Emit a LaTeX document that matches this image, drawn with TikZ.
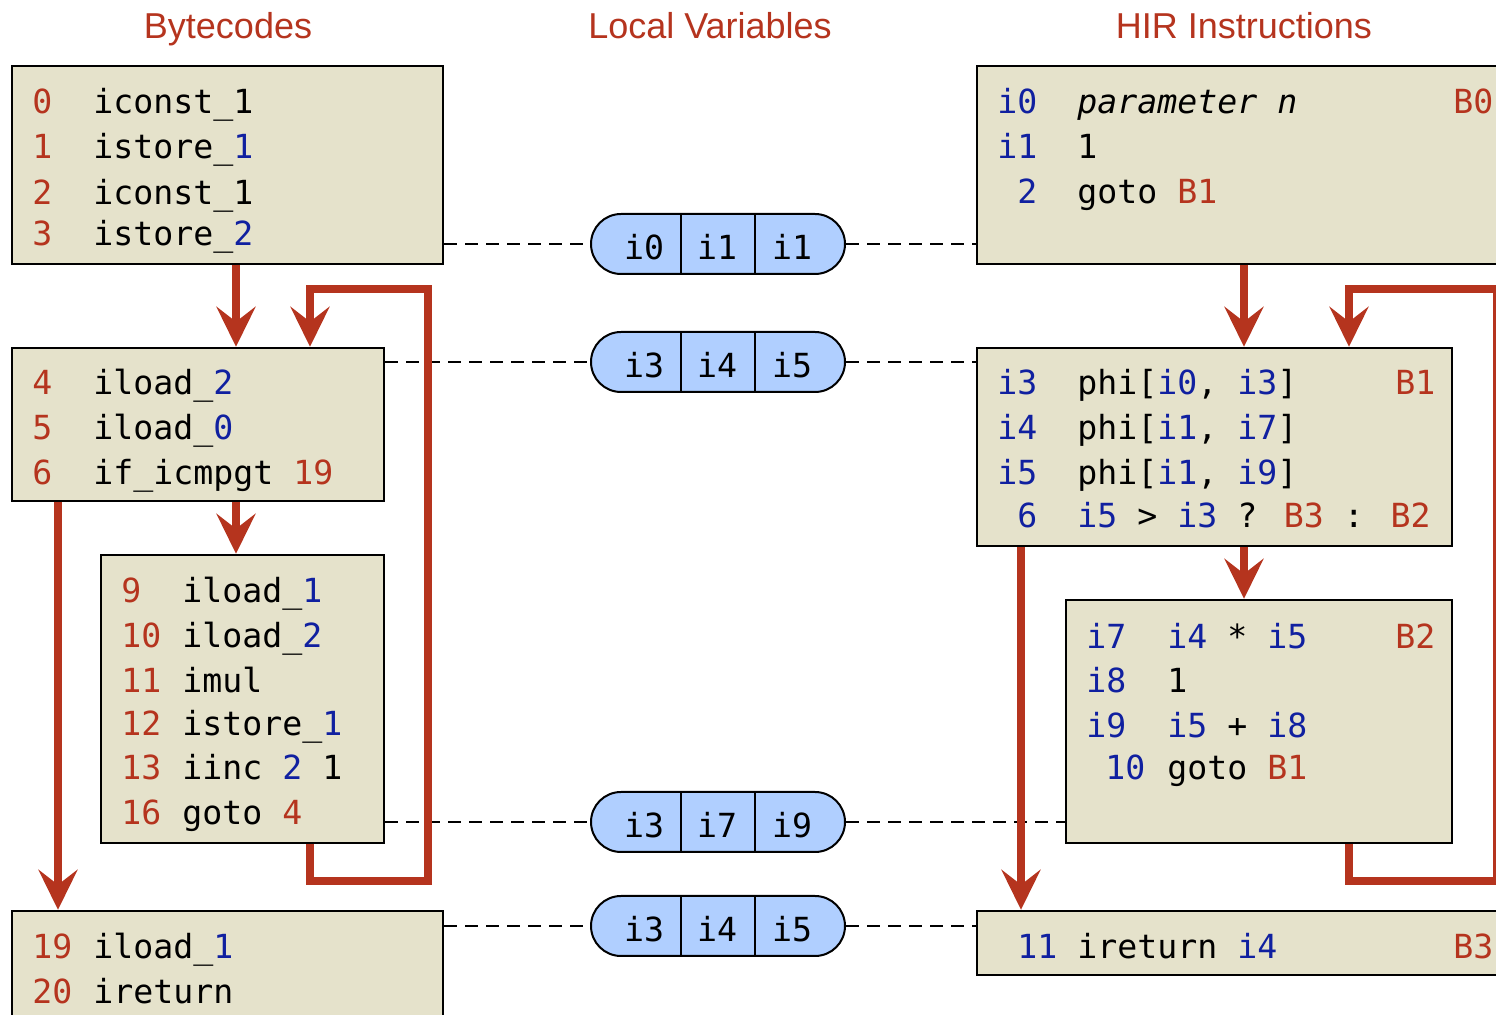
\documentclass[tikz,border=0pt]{standalone}
\usepackage{fontspec}
\usetikzlibrary{arrows.meta,fit}
\newfontfamily\headfont{Liberation Sans}
\newfontfamily\codefont{DejaVu Sans Mono}
\definecolor{flowred}{RGB}{181,52,30}
\definecolor{valblue}{RGB}{16,32,160}
\definecolor{blockfill}{RGB}{229,226,203}
\definecolor{pillfill}{RGB}{176,207,255}
\newcommand{\Rd}[1]{\textcolor{flowred}{#1}}
\newcommand{\Bl}[1]{\textcolor{valblue}{#1}}
\newcommand{\us}{\textunderscore}
\tikzset{
  blockbox/.style={draw=black, line width=1.2pt, fill=blockfill, inner sep=0pt, rectangle},
  code/.style={font=\codefont\fontsize{16.6pt}{20pt}\selectfont, inner sep=0pt, anchor=base west, yshift=-1pt},
  codec/.style={code, anchor=base},
  title/.style={font=\headfont\fontsize{18pt}{22pt}\selectfont, text=flowred, inner sep=0pt, anchor=base},
  pill/.style={draw=black, line width=1pt, fill=pillfill, rectangle, rounded corners=15pt,
    minimum width=127pt, minimum height=30pt, inner sep=0pt},
  link/.style={draw=black, line width=0.8pt, dash pattern=on 6.5pt off 4pt},
  flow/.style={draw=flowred, line width=3.6pt, line join=round,
    -{Stealth[length=20pt, width=19.5pt, inset=7.5pt, flowred]}},
  loopflow/.style={flow, line join=miter},
}
\begin{document}
\begin{tikzpicture}[x=0.5pt, y=-0.5pt]
\useasboundingbox (0,0) rectangle (1496,1015);
\clip (0,0) rectangle (1496,1015);

% column headings
\node[title] (hBC) at (228,39) {Bytecodes};
\node[title] (hLV) at (710,39) {Local Variables};
\node[title] (hHIR) at (1244,39) {HIR Instructions};

% ---------------- bytecode blocks ----------------
\coordinate (a1) at (12,66);   \coordinate (a2) at (443,264);
\coordinate (b1) at (12,348);  \coordinate (b2) at (384,501);
\coordinate (c1) at (101,555); \coordinate (c2) at (384,843);
\coordinate (d1) at (12,911);  \coordinate (d2) at (443,1045);
\node[blockbox, fit=(a1)(a2)] (bA) {};
\node[blockbox, fit=(b1)(b2)] (bB) {};
\node[blockbox, fit=(c1)(c2)] (bC) {};
\node[blockbox, fit=(d1)(d2)] (bD) {};

\node[code] (a0n) at (32,112) {\Rd{0}};  \node[code] (a0t) at (93,112) {iconst\us1};
\node[code] (a1n) at (32,157) {\Rd{1}};  \node[code] (a1t) at (93,157) {istore\us\Bl{1}};
\node[code] (a2n) at (32,203) {\Rd{2}};  \node[code] (a2t) at (93,203) {iconst\us1};
\node[code] (a3n) at (32,244) {\Rd{3}};  \node[code] (a3t) at (93,244) {istore\us\Bl{2}};

\node[code] (b4n) at (32,393) {\Rd{4}};  \node[code] (b4t) at (93,393) {iload\us\Bl{2}};
\node[code] (b5n) at (32,438) {\Rd{5}};  \node[code] (b5t) at (93,438) {iload\us\Bl{0}};
\node[code] (b6n) at (32,483) {\Rd{6}};  \node[code] (b6t) at (93,483) {if\us icmpgt \Rd{19}};

\node[code] (c9n)  at (121,601) {\Rd{9}};  \node[code] (c9t)  at (182,601) {iload\us\Bl{1}};
\node[code] (c10n) at (121,646) {\Rd{10}}; \node[code] (c10t) at (182,646) {iload\us\Bl{2}};
\node[code] (c11n) at (121,691) {\Rd{11}}; \node[code] (c11t) at (182,691) {imul};
\node[code] (c12n) at (121,734) {\Rd{12}}; \node[code] (c12t) at (182,734) {istore\us\Bl{1}};
\node[code] (c13n) at (121,778) {\Rd{13}}; \node[code] (c13t) at (182,778) {iinc \Bl{2} 1};
\node[code] (c16n) at (121,823) {\Rd{16}}; \node[code] (c16t) at (182,823) {goto \Rd{4}};

\node[code] (d19n) at (32,957)  {\Rd{19}}; \node[code] (d19t) at (93,957)  {iload\us\Bl{1}};
\node[code] (d20n) at (32,1002) {\Rd{20}}; \node[code] (d20t) at (93,1002) {ireturn};

% ---------------- HIR blocks ----------------
\coordinate (e1) at (977,66);   \coordinate (e2) at (1530,264);
\coordinate (f1) at (977,348);  \coordinate (f2) at (1452,546);
\coordinate (g1) at (1066,600); \coordinate (g2) at (1452,843);
\coordinate (h1) at (977,911);  \coordinate (h2) at (1530,975);
\node[blockbox, fit=(e1)(e2)] (bE) {};
\node[blockbox, fit=(f1)(f2)] (bF) {};
\node[blockbox, fit=(g1)(g2)] (bG) {};
\node[blockbox, fit=(h1)(h2)] (bH) {};

\node[code] (e0n) at (997,112)  {\Bl{i0}}; \node[code] (e0t) at (1077,112) {\itshape parameter n};
\node[code] (e0b) at (1453,112) {\Rd{B0}};
\node[code] (e1n) at (997,157)  {\Bl{i1}}; \node[code] (e1t) at (1077,157) {1};
\node[code] (e2n) at (1017,202) {\Bl{2}};  \node[code] (e2t) at (1077,202) {goto \Rd{B1}};

\node[code] (f3n) at (997,393)  {\Bl{i3}}; \node[code] (f3t) at (1077,393) {phi[\Bl{i0}, \Bl{i3}]};
\node[code] (f3b) at (1395,393) {\Rd{B1}};
\node[code] (f4n) at (997,438)  {\Bl{i4}}; \node[code] (f4t) at (1077,438) {phi[\Bl{i1}, \Bl{i7}]};
\node[code] (f5n) at (997,483)  {\Bl{i5}}; \node[code] (f5t) at (1077,483) {phi[\Bl{i1}, \Bl{i9}]};
\node[code] (f6n) at (1017,526) {\Bl{6}};  \node[code] (f6t) at (1077,526) {\Bl{i5} > \Bl{i3} ? \Rd{B3} : \Rd{B2}};

\node[code] (g7n)  at (1086,647) {\Bl{i7}}; \node[code] (g7t)  at (1167,647) {\Bl{i4} * \Bl{i5}};
\node[code] (g7b)  at (1395,647) {\Rd{B2}};
\node[code] (g8n)  at (1086,691) {\Bl{i8}}; \node[code] (g8t)  at (1167,691) {1};
\node[code] (g9n)  at (1086,736) {\Bl{i9}}; \node[code] (g9t)  at (1167,736) {\Bl{i5} + \Bl{i8}};
\node[code] (g10n) at (1105,778) {\Bl{10}}; \node[code] (g10t) at (1167,778) {goto \Rd{B1}};

\node[code] (h11n) at (1017,957) {\Bl{11}}; \node[code] (h11t) at (1077,957) {ireturn \Bl{i4}};
\node[code] (h11b) at (1453,957) {\Rd{B3}};

% ---------------- local variable states ----------------
\foreach \p/\yy/\va/\vb/\vc in {p1/244/i0/i1/i1, p2/362/i3/i4/i5, p3/822/i3/i7/i9, p4/926/i3/i4/i5} {
  \node[pill] (\p) at (718,\yy) {};
  \draw[line width=1pt] (681,\yy-30) -- (681,\yy+30);
  \draw[line width=1pt] (755,\yy-30) -- (755,\yy+30);
  \node[codec] (\p a) at (644,\yy+14) {\va};
  \node[codec] (\p b) at (717,\yy+14) {\vb};
  \node[codec] (\p c) at (792,\yy+14) {\vc};
}

% dashed links between blocks and variable states
\draw[link] (p1.west -| bA.east) -- (p1.west);  \draw[link] (p1.east) -- (p1.east -| bE.west);
\draw[link] (p2.west -| bB.east) -- (p2.west);  \draw[link] (p2.east) -- (p2.east -| bF.west);
\draw[link] (p3.west -| bC.east) -- (p3.west);  \draw[link] (p3.east) -- (p3.east -| bG.west);
\draw[link] (p4.west -| bD.east) -- (p4.west);  \draw[link] (p4.east) -- (p4.east -| bH.west);

% ---------------- control flow ----------------
\coordinate (xa) at (236,0);  \coordinate (xb) at (310,0);  \coordinate (xl) at (58,0);
\coordinate (lbr) at (428,881); \coordinate (ltr) at (428,289);
\coordinate (xc) at (1244,0); \coordinate (xd) at (1349,0); \coordinate (xr) at (1021,0);
\coordinate (rbr) at (1497,881); \coordinate (rtr) at (1497,289);

\draw[flow] (bA.south -| xa) -- (bB.north -| xa);
\draw[flow] (bB.south -| xa) -- (bC.north -| xa);
\draw[flow] (bB.south -| xl) -- (bD.north -| xl);
\draw[loopflow] (bC.south -| xb) |- (lbr) -- (ltr) -| (bB.north -| xb);

\draw[flow] (bE.south -| xc) -- (bF.north -| xc);
\draw[flow] (bF.south -| xc) -- (bG.north -| xc);
\draw[flow] (bF.south -| xr) -- (bH.north -| xr);
\draw[loopflow] (bG.south -| xd) |- (rbr) -- (rtr) -| (bF.north -| xd);
\end{tikzpicture}
\end{document}
